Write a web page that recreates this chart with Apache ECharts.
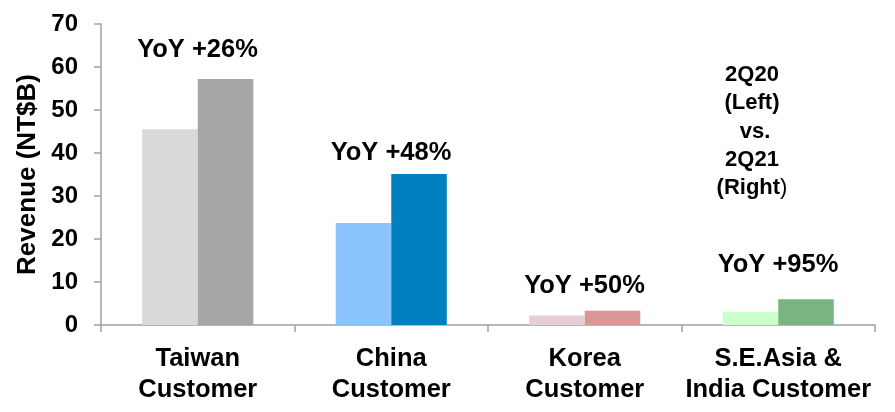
<!DOCTYPE html>
<html>
<head>
<meta charset="utf-8">
<script src="https://cdn.jsdelivr.net/npm/echarts@6/dist/echarts.min.js"></script>
<style>
  html, body { margin: 0; padding: 0; background: #fff; }
  #chart { width: 895px; height: 412px; }
</style>
</head>
<body>
<div id="chart"></div>
<script>
// Customer regions on the category axis
const categories = ['Taiwan\nCustomer', 'China\nCustomer', 'Korea\nCustomer', 'S.E.Asia &\nIndia Customer'];
// Quarterly revenue, NT$ billions
const rev2Q20 = [45.5, 23.7, 2.2, 3.1];
const rev2Q21 = [57.2, 35.1, 3.3, 6.0];
// Year-over-year growth captions
const yoyLabels = ['YoY +26%', 'YoY +48%', 'YoY +50%', 'YoY +95%'];
// Value axis ticks
const yTicks = [0, 10, 20, 30, 40, 50, 60, 70];

// Styling per region: lighter shade for 2Q20, deeper shade for 2Q21
const colors2Q20 = ['#d9d9d9', '#8cc4ff', '#e6cfd1', '#ccffcc'];
const colors2Q21 = ['#a6a6a6', '#0080c0', '#d99694', '#7ab581'];
// How far each growth caption sits above its bar (px)
const captionLift = [16, 8.5, 11.5, 21.5];

const FONT = '"Liberation Sans", Arial, Helvetica, sans-serif';
const AXIS_GRAY = '#a0a0a0';

const chart = echarts.init(document.getElementById('chart'), null, { renderer: 'canvas' });

chart.setOption({
  animation: false,
  backgroundColor: '#ffffff',
  textStyle: { fontFamily: FONT },
  grid: { left: 101, right: 20, top: 24, bottom: 87, containLabel: false },
  xAxis: {
    type: 'category',
    data: categories,
    axisLine: { lineStyle: { color: AXIS_GRAY, width: 1.5 } },
    axisTick: { show: true, length: 7, lineStyle: { color: AXIS_GRAY, width: 1.5 } },
    axisLabel: {
      interval: 0,
      margin: 18,
      color: '#000',
      fontFamily: FONT,
      fontWeight: 'bold',
      fontSize: 25.5,
      lineHeight: 31
    }
  },
  yAxis: {
    type: 'value',
    min: yTicks[0],
    max: yTicks[yTicks.length - 1],
    interval: yTicks[1] - yTicks[0],
    name: 'Revenue (NT$B)',
    nameLocation: 'middle',
    nameGap: 60,
    nameTextStyle: { color: '#000', fontFamily: FONT, fontWeight: 'bold', fontSize: 26 },
    splitLine: { show: false },
    axisLine: { show: true, lineStyle: { color: AXIS_GRAY, width: 1.5 } },
    axisTick: { show: true, length: 7, lineStyle: { color: AXIS_GRAY, width: 1.5 } },
    axisLabel: {
      margin: 23,
      color: '#000',
      fontFamily: FONT,
      fontWeight: 'bold',
      fontSize: 24
    }
  },
  series: [
    {
      name: '2Q20',
      type: 'bar',
      barGap: '0%',
      barCategoryGap: '42.6%',
      data: rev2Q20.map((v, i) => ({ value: v, itemStyle: { color: colors2Q20[i] } }))
    },
    {
      name: '2Q21',
      type: 'bar',
      barGap: '0%',
      barCategoryGap: '42.6%',
      data: rev2Q21.map((v, i) => ({
        value: v,
        itemStyle: { color: colors2Q21[i] },
        label: {
          show: true,
          position: 'top',
          distance: captionLift[i],
          offset: [-28, 0],
          formatter: yoyLabels[i],
          color: '#000',
          fontFamily: FONT,
          fontWeight: 'bold',
          fontSize: 25.5
        }
      }))
    }
  ],
  graphic: [
    {
      type: 'text',
      x: 752,
      y: 61,
      style: {
        text: '{b|2Q20}\n{b|(Left)}\n{b| vs.}\n{b|2Q21}\n{b|(Right}{n|)}',
        align: 'center',
        verticalAlign: 'top',
        fill: '#000',
        rich: {
          b: { fontFamily: FONT, fontWeight: 'bold', fontSize: 22, lineHeight: 28.25, fill: '#000' },
          n: { fontFamily: FONT, fontWeight: 'normal', fontSize: 22, lineHeight: 28.25, fill: '#000' }
        }
      }
    }
  ]
});
</script>
</body>
</html>
